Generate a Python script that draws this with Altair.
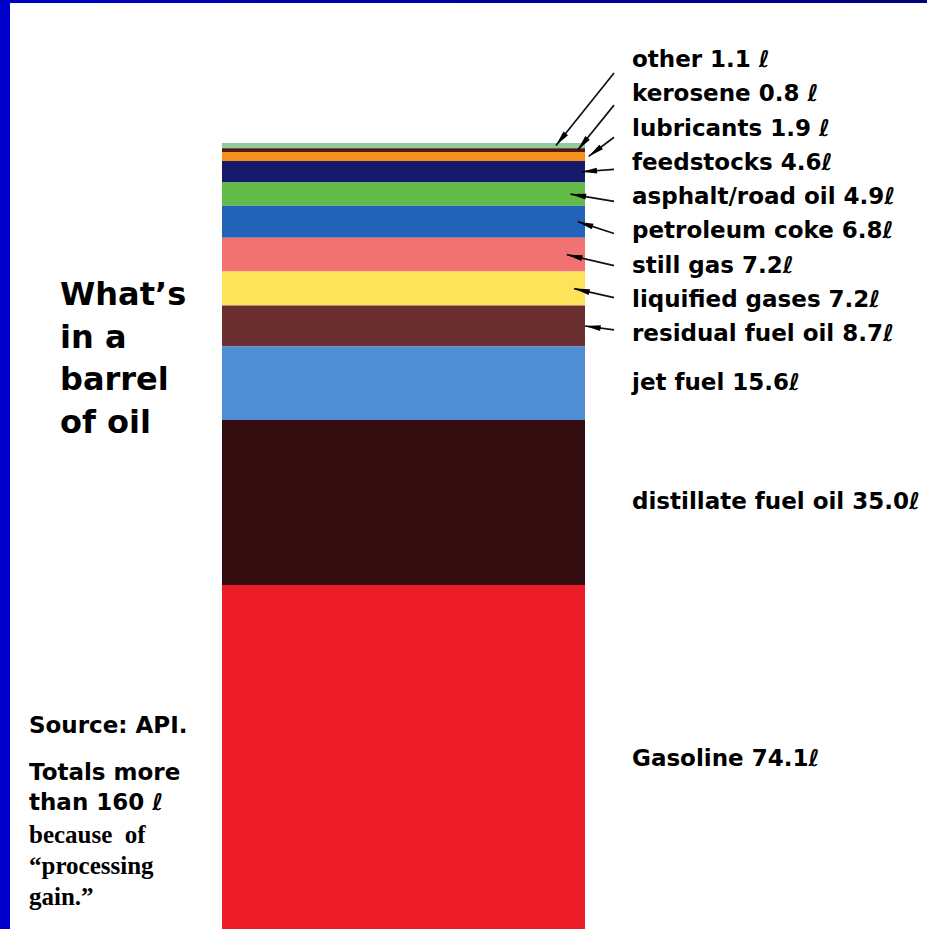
import math

import altair as alt
import pandas as pd

# Refinery output from one 159-litre barrel of crude (top of the stack first)
products = [
    "other", "kerosene", "lubricants", "feedstocks", "asphalt/road oil",
    "petroleum coke", "still gas", "liquified gases", "residual fuel oil",
    "jet fuel", "distillate fuel oil", "Gasoline",
]
litres = [1.1, 0.8, 1.9, 4.6, 4.9, 6.8, 7.2, 7.2, 8.7, 15.6, 35.0, 74.1]
band_colors = [
    "#93c99b", "#4b1c12", "#f5901e", "#161a6a", "#62bb47", "#2263b9",
    "#f27171", "#fde35a", "#6c2f30", "#4f8ed2", "#330d0f", "#ed1c29",
]
title_lines = ["What\u2019s", "in a", "barrel", "of oil"]
source_lines = ["Source: API."]
total_lines = ["Totals more", "than 160 \u2113"]
gain_lines = ["because\u00a0 of", "\u201cprocessing", "gain.\u201d"]

# ---- layout -------------------------------------------------------------
W, H = 927, 929
BAR_LEFT, BAR_RIGHT = 222, 585
BAR_TOP_PX, ZERO_PX = 143, 934          # bar top and the litre-zero line
N_CALLOUT = 9                            # small bands labelled through arrows
LABEL_ROW0_PX, LABEL_STEP_PX = 60, 34.25
TAIL_ROW0_PX, TAIL_STEP_PX = 73, 32.1
TAIL_X = 1.08                            # arrow tails, in bar-width units
arrow_tip_x = [0.92, 0.98, 1.01, 0.99, 0.96, 0.98, 0.95, 0.97, 1.0]
LABEL_X = 632
FONT = "DejaVu Sans"

total = sum(litres)
px_per_l = (ZERO_PX - BAR_TOP_PX) / total
y_min = (ZERO_PX - H) / px_per_l
y_max = ZERO_PX / px_per_l


def px_to_l(p):
    return (ZERO_PX - p) / px_per_l


# ---- stacked bands --------------------------------------------------------
df = pd.DataFrame({"product": products, "litres": litres})
df["hi"] = total - (df["litres"].cumsum() - df["litres"])
df["lo"] = df["hi"] - df["litres"]
df["mid"] = (df["lo"] + df["hi"]) / 2
df["label"] = [
    f"{p} {v:.1f}" + (" \u2113" if i < 3 else "\u2113")
    for i, (p, v) in enumerate(zip(products, litres))
]
df["text_y"] = [
    px_to_l(LABEL_ROW0_PX + LABEL_STEP_PX * i) if i < N_CALLOUT else m
    for i, m in enumerate(df["mid"])
]

# ---- callout arrows ---------------------------------------------------------
arr = df.iloc[:N_CALLOUT].copy()
arr["tail_x"] = TAIL_X
arr["tip_x"] = arrow_tip_x
arr["tail_y"] = [px_to_l(TAIL_ROW0_PX + TAIL_STEP_PX * i) for i in range(N_CALLOUT)]
arr["tip_y"] = arr["mid"]
angles = []
for _, r in arr.iterrows():
    dx = (r.tip_x - r.tail_x) * (BAR_RIGHT - BAR_LEFT)
    dy = -(r.tip_y - r.tail_y) * px_per_l
    angles.append(math.degrees(math.atan2(dx, -dy)) % 360)
arr["angle"] = angles

xs = alt.Scale(domain=[0, 1], range=[BAR_LEFT, BAR_RIGHT], nice=False, zero=False)
ys = alt.Scale(domain=[y_min, y_max], nice=False, zero=False)

bars = alt.Chart(df).mark_rect(clip=True).encode(
    x=alt.XDatum(0, type="quantitative", scale=xs, axis=None),
    x2=alt.X2Datum(1),
    y=alt.Y("lo:Q", scale=ys, axis=None),
    y2="hi:Q",
    color=alt.Color("product:N", scale=alt.Scale(domain=products, range=band_colors), legend=None),
)

shafts = alt.Chart(arr).mark_rule(color="#111111", strokeWidth=1.7).encode(
    x=alt.X("tail_x:Q", scale=xs, axis=None),
    x2="tip_x:Q",
    y=alt.Y("tail_y:Q", scale=ys, axis=None),
    y2="tip_y:Q",
)

heads = alt.Chart(arr).mark_point(
    shape="M0,0L0.45,2.4L-0.45,2.4Z", filled=True, size=170, color="#000000", opacity=1
).encode(
    x=alt.X("tip_x:Q", scale=xs, axis=None),
    y=alt.Y("tip_y:Q", scale=ys, axis=None),
    angle=alt.Angle("angle:Q", scale=None),
)

labels = alt.Chart(df).mark_text(
    align="left", baseline="middle", font=FONT, fontWeight="bold", fontSize=23, color="#000000"
).encode(
    x=alt.value(LABEL_X),
    y=alt.Y("text_y:Q", scale=ys, axis=None),
    text="label:N",
)

one = pd.DataFrame({"k": [0]})


def block(lines, x, y, size, line_h, font=FONT):
    return alt.Chart(one).mark_text(
        text=lines, align="left", baseline="alphabetic", font=font,
        fontWeight="bold", fontSize=size, lineHeight=line_h, color="#000000",
    ).encode(x=alt.value(x), y=alt.value(y))


title = block(title_lines, 60, 305, 32, 42.5)
source = block(source_lines, 29, 733, 23, 30)
totals = block(total_lines, 29, 780, 23, 30)
gain = block(gain_lines, 29, 843, 25, 31, font="Liberation Serif")

# slide frame: blue strip down the left and a thin band across the top
left_strip = alt.Chart(one).mark_rect(color="#0000cc").encode(
    x=alt.value(0), x2=alt.value(10), y=alt.value(0), y2=alt.value(H)
)
top_strip = alt.Chart(one).mark_rect(
    color=alt.Gradient(
        gradient="linear", x1=0, x2=1, y1=0, y2=0,
        stops=[alt.GradientStop(color="#0000c8", offset=0),
               alt.GradientStop(color="#00007c", offset=1)],
    )
).encode(x=alt.value(0), x2=alt.value(W), y=alt.value(0), y2=alt.value(3))

chart = alt.layer(
    bars, shafts, heads, labels, title, source, totals, gain, left_strip, top_strip
).properties(
    width=W, height=H, padding=0, autosize="none", background="white"
).configure_view(stroke=None)

chart.save("out.html", embed_options={"renderer": "svg", "actions": False})
